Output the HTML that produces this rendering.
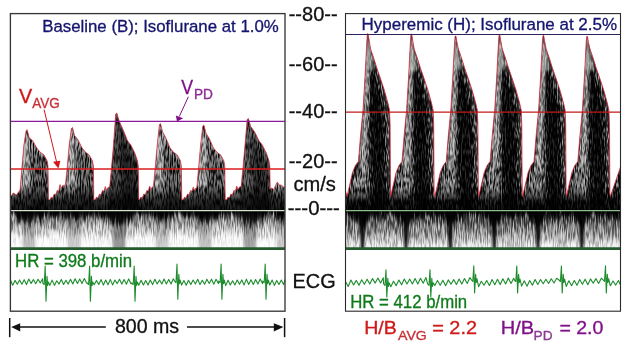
<!DOCTYPE html>
<html><head><meta charset="utf-8"><title>Doppler</title>
<style>html,body{margin:0;padding:0;background:#fff;overflow:hidden}svg text{font-family:"Liberation Sans",Arial,sans-serif;stroke-width:0.32px;paint-order:stroke}</style></head>
<body>
<svg width="629" height="347" viewBox="0 0 629 347" style="display:block">
<defs>
<filter id="spk" x="0" y="0" width="100%" height="100%" filterUnits="objectBoundingBox" color-interpolation-filters="sRGB">
 <feTurbulence type="fractalNoise" baseFrequency="0.75 0.18" numOctaves="2" seed="3" result="n"/>
 <feColorMatrix in="n" type="matrix" values="0 0 0 0 0.85  0 0 0 0 0.85  0 0 0 0 0.85  5.5 0 0 0 -2.75"/>
 <feGaussianBlur stdDeviation="0.7 0.8"/>
</filter>
<filter id="spk2" x="0" y="0" width="100%" height="100%" filterUnits="objectBoundingBox" color-interpolation-filters="sRGB">
 <feTurbulence type="fractalNoise" baseFrequency="0.75 0.16" numOctaves="2" seed="11" result="n"/>
 <feColorMatrix in="n" type="matrix" values="0 0 0 0 0.8  0 0 0 0 0.8  0 0 0 0 0.8  5 0 0 0 -1.92"/>
 <feGaussianBlur stdDeviation="0.7 0.8"/>
</filter>
<filter id="dk" x="0" y="0" width="100%" height="100%" filterUnits="objectBoundingBox" color-interpolation-filters="sRGB">
 <feTurbulence type="fractalNoise" baseFrequency="0.9 0.1" numOctaves="2" seed="5" result="n"/>
 <feColorMatrix in="n" type="matrix" values="0 0 0 0 0  0 0 0 0 0  0 0 0 0 0  6 0 0 0 -2.6"/>
 <feGaussianBlur stdDeviation="0.5 0.9"/>
</filter>
<filter id="lt" x="0" y="0" width="100%" height="100%" filterUnits="objectBoundingBox" color-interpolation-filters="sRGB">
 <feTurbulence type="fractalNoise" baseFrequency="0.8 0.09" numOctaves="2" seed="21" result="n"/>
 <feColorMatrix in="n" type="matrix" values="0 0 0 0 1  0 0 0 0 1  0 0 0 0 1  6 0 0 0 -2.9"/>
 <feGaussianBlur stdDeviation="0.5 0.9"/>
</filter>
<linearGradient id="gL" x1="0" y1="0" x2="0" y2="1"><stop offset="0" stop-color="#333"/><stop offset="0.22" stop-color="#8a8a8a"/><stop offset="0.5" stop-color="#d8d8d8"/><stop offset="0.72" stop-color="#fdfdfd"/></linearGradient>
<linearGradient id="gR" x1="0" y1="0" x2="0" y2="1"><stop offset="0" stop-color="#111"/><stop offset="0.2" stop-color="#3a3a3a"/><stop offset="0.42" stop-color="#7c7c7c"/><stop offset="0.7" stop-color="#bebebe"/><stop offset="0.9" stop-color="#f2f2f2"/></linearGradient>
<linearGradient id="gK" x1="0" y1="0" x2="0" y2="1"><stop offset="0" stop-color="#000" stop-opacity="0"/><stop offset="0.6" stop-color="#000" stop-opacity="0.7"/><stop offset="1" stop-color="#000" stop-opacity="0.85"/></linearGradient>
<filter id="spkD" x="-10%" y="-5%" width="120%" height="110%" color-interpolation-filters="sRGB">
 <feGaussianBlur in="SourceAlpha" stdDeviation="1.8" result="m"/>
 <feTurbulence type="fractalNoise" baseFrequency="0.75 0.16" numOctaves="2" seed="31" result="n"/>
 <feColorMatrix in="n" type="matrix" values="0 0 0 0 0.82  0 0 0 0 0.82  0 0 0 0 0.82  6 0 0 0 -2.35" result="c"/>
 <feGaussianBlur in="c" stdDeviation="0.7 0.8" result="cb"/>
 <feComposite in="cb" in2="m" operator="in"/>
</filter>
<filter id="rag" x="-5%" y="-40%" width="110%" height="200%" color-interpolation-filters="sRGB">
 <feGaussianBlur in="SourceGraphic" stdDeviation="1.2 2.2" result="b"/>
 <feTurbulence type="fractalNoise" baseFrequency="0.5 0.03" numOctaves="2" seed="8" result="t"/>
 <feColorMatrix in="t" type="matrix" values="0 0 0 0 0.5  0 1 0 0 0  0 0 0 0 0  0 0 0 0 1" result="m"/>
 <feDisplacementMap in="b" in2="m" scale="20" xChannelSelector="R" yChannelSelector="G"/>
</filter>
<linearGradient id="gmL" x1="0" y1="0" x2="0" y2="1"><stop offset="0" stop-color="#fff"/><stop offset="0.45" stop-color="#ddd"/><stop offset="0.8" stop-color="#333"/><stop offset="1" stop-color="#111"/></linearGradient>
<linearGradient id="gmR" x1="0" y1="0" x2="0" y2="1"><stop offset="0" stop-color="#fff"/><stop offset="0.55" stop-color="#eee"/><stop offset="1" stop-color="#666"/></linearGradient>
<mask id="mfL" maskContentUnits="objectBoundingBox"><rect width="1" height="1" fill="url(#gmL)"/></mask>
<mask id="mfR" maskContentUnits="objectBoundingBox"><rect width="1" height="1" fill="url(#gmR)"/></mask>
<filter id="blur1"><feGaussianBlur stdDeviation="1.2 1.5"/></filter>
<filter id="blurv" x="-5%" y="-50%" width="110%" height="200%"><feGaussianBlur stdDeviation="0 1.6"/></filter>
<filter id="blur2"><feGaussianBlur stdDeviation="2.2 3"/></filter>

<clipPath id="cl"><polygon points="10.4,197.0 13.4,193.0 16.4,195.0 20.1,190.0 21.7,170.0 23.9,145.0 26.1,130.7 27.2,129.7 29.2,137.7 32.7,140.7 36.8,148.0 40.0,152.0 44.0,155.0 47.2,161.0 48.0,166.0 48.4,199.5 49.7,200.0 51.2,197.2 52.7,198.0 54.2,194.0 55.7,194.8 57.2,190.5 58.7,191.2 60.0,184.5 61.3,188.0 62.7,185.5 65.4,185.0 67.0,170.0 69.2,145.0 71.4,128.5 72.5,127.5 74.5,135.5 78.0,139.8 82.1,148.0 85.3,152.0 89.3,155.0 92.5,161.0 93.4,166.0 93.8,199.5 95.0,200.0 96.5,197.2 98.0,198.0 99.5,194.0 101.0,194.8 102.5,190.5 104.0,191.2 105.3,186.5 106.6,190.0 108.0,187.5 109.7,187.0 111.3,170.0 113.5,145.0 115.7,114.0 116.8,113.0 119.2,121.0 123.1,129.8 127.6,141.0 130.8,145.0 134.8,153.0 137.5,161.0 138.2,166.0 138.7,199.5 139.3,200.0 140.8,197.2 142.3,198.0 143.8,194.0 145.3,194.8 146.8,190.5 148.3,191.2 149.6,186.0 150.9,189.5 152.3,187.0 153.4,186.5 155.0,170.0 157.2,145.0 159.4,124.6 160.5,123.6 162.5,131.6 166.0,138.2 170.1,148.0 173.3,152.0 177.3,155.0 180.5,161.0 181.3,166.0 181.8,199.5 183.0,200.0 184.5,197.2 186.0,198.0 187.5,194.0 189.0,194.8 190.5,190.5 192.0,191.2 193.3,187.0 194.6,190.5 196.0,188.0 196.8,187.5 198.4,170.0 200.6,145.0 202.8,126.0 203.9,125.0 205.9,133.0 209.4,138.8 213.5,148.0 216.7,152.0 220.7,155.0 223.9,161.0 224.8,166.0 225.2,199.5 226.4,200.0 227.9,197.2 229.4,198.0 230.9,194.0 232.4,194.8 233.9,190.5 235.4,191.2 236.7,186.0 238.0,189.5 239.4,187.0 241.2,186.5 242.8,170.0 245.0,145.0 247.2,119.5 248.3,118.5 250.7,126.5 254.7,132.0 259.1,141.0 262.3,145.0 266.3,153.0 269.0,161.0 269.8,166.0 270.2,189.0 271.8,188.0 273.8,189.5 275.8,185.0 277.3,182.0 279.3,185.0 281.3,185.0 283.3,187.0 285.0,187.0 285.0,210.7 10.4,210.7"/></clipPath>
<clipPath id="cr"><polygon points="345.5,191.0 347.0,196.5 349.9,184.0 352.5,172.5 355.4,165.5 358.4,161.5 360.6,135.0 363.0,110.0 365.1,75.0 366.8,42.0 367.4,33.8 368.1,33.8 368.9,38.8 370.6,49.0 373.7,58.0 377.0,68.5 380.3,78.0 384.3,90.0 387.9,103.0 389.5,110.0 390.1,125.0 390.3,160.0 390.5,193.0 390.9,196.5 390.6,196.5 393.5,184.0 396.1,172.5 399.0,165.5 402.0,161.5 404.2,135.0 406.6,110.0 408.7,75.0 410.4,42.0 411.0,34.2 411.7,34.2 412.5,39.2 414.2,49.0 417.3,58.0 420.6,68.5 423.9,78.0 427.9,90.0 431.5,103.0 433.1,110.0 433.7,125.0 433.9,160.0 434.1,193.0 434.5,196.5 434.8,196.5 437.7,184.0 440.3,172.5 443.2,165.5 446.2,161.5 448.4,135.0 450.8,110.0 452.9,75.0 454.6,42.0 455.2,36.0 455.9,36.0 456.7,41.0 458.4,49.0 461.5,58.0 464.8,68.5 468.1,78.0 472.1,90.0 475.7,103.0 477.3,110.0 477.9,125.0 478.1,160.0 478.3,193.0 478.7,196.5 478.7,196.5 481.6,184.0 484.2,172.5 487.1,165.5 490.1,161.5 492.3,135.0 494.7,110.0 496.8,75.0 498.5,42.0 499.1,34.8 499.8,34.8 500.6,39.8 502.3,49.0 505.4,58.0 508.7,68.5 512.0,78.0 516.0,90.0 519.6,103.0 521.2,110.0 521.8,125.0 522.0,160.0 522.2,193.0 522.6,196.5 522.6,196.5 525.5,184.0 528.1,172.5 531.0,165.5 534.0,161.5 536.2,135.0 538.6,110.0 540.7,75.0 542.4,42.0 543.0,35.5 543.7,35.5 544.5,40.5 546.2,49.0 549.3,58.0 552.6,68.5 555.9,78.0 559.9,90.0 563.5,103.0 565.1,110.0 565.7,125.0 565.9,160.0 566.1,193.0 566.5,196.5 566.4,196.5 569.3,184.0 571.9,172.5 574.8,165.5 577.8,161.5 580.0,135.0 582.4,110.0 584.5,75.0 586.2,42.0 586.8,36.5 587.5,36.5 588.3,41.5 590.0,49.0 593.1,58.0 596.4,68.5 599.7,78.0 603.7,90.0 607.3,103.0 608.9,110.0 609.5,125.0 609.7,160.0 609.9,193.0 610.3,196.5 620.5,167.0 620.5,210.7 345.5,210.7"/></clipPath>
<clipPath id="bl"><rect x="10.4" y="210.7" width="274.6" height="37.900000000000006"/></clipPath>
<clipPath id="br"><rect x="345.5" y="210.7" width="275.0" height="37.900000000000006"/></clipPath>
</defs>
<rect width="629" height="347" fill="#fff"/>
<polygon points="10.4,197.0 13.4,193.0 16.4,195.0 20.1,190.0 21.7,170.0 23.9,145.0 26.1,130.7 27.2,129.7 29.2,137.7 32.7,140.7 36.8,148.0 40.0,152.0 44.0,155.0 47.2,161.0 48.0,166.0 48.4,199.5 49.7,200.0 51.2,197.2 52.7,198.0 54.2,194.0 55.7,194.8 57.2,190.5 58.7,191.2 60.0,184.5 61.3,188.0 62.7,185.5 65.4,185.0 67.0,170.0 69.2,145.0 71.4,128.5 72.5,127.5 74.5,135.5 78.0,139.8 82.1,148.0 85.3,152.0 89.3,155.0 92.5,161.0 93.4,166.0 93.8,199.5 95.0,200.0 96.5,197.2 98.0,198.0 99.5,194.0 101.0,194.8 102.5,190.5 104.0,191.2 105.3,186.5 106.6,190.0 108.0,187.5 109.7,187.0 111.3,170.0 113.5,145.0 115.7,114.0 116.8,113.0 119.2,121.0 123.1,129.8 127.6,141.0 130.8,145.0 134.8,153.0 137.5,161.0 138.2,166.0 138.7,199.5 139.3,200.0 140.8,197.2 142.3,198.0 143.8,194.0 145.3,194.8 146.8,190.5 148.3,191.2 149.6,186.0 150.9,189.5 152.3,187.0 153.4,186.5 155.0,170.0 157.2,145.0 159.4,124.6 160.5,123.6 162.5,131.6 166.0,138.2 170.1,148.0 173.3,152.0 177.3,155.0 180.5,161.0 181.3,166.0 181.8,199.5 183.0,200.0 184.5,197.2 186.0,198.0 187.5,194.0 189.0,194.8 190.5,190.5 192.0,191.2 193.3,187.0 194.6,190.5 196.0,188.0 196.8,187.5 198.4,170.0 200.6,145.0 202.8,126.0 203.9,125.0 205.9,133.0 209.4,138.8 213.5,148.0 216.7,152.0 220.7,155.0 223.9,161.0 224.8,166.0 225.2,199.5 226.4,200.0 227.9,197.2 229.4,198.0 230.9,194.0 232.4,194.8 233.9,190.5 235.4,191.2 236.7,186.0 238.0,189.5 239.4,187.0 241.2,186.5 242.8,170.0 245.0,145.0 247.2,119.5 248.3,118.5 250.7,126.5 254.7,132.0 259.1,141.0 262.3,145.0 266.3,153.0 269.0,161.0 269.8,166.0 270.2,189.0 271.8,188.0 273.8,189.5 275.8,185.0 277.3,182.0 279.3,185.0 281.3,185.0 283.3,187.0 285.0,187.0 285.0,210.7 10.4,210.7" fill="#0a0a0a"/>
<g clip-path="url(#cl)"><rect x="10.4" y="100" width="274.6" height="110.69999999999999" filter="url(#spk2)" opacity="0.85"/>
<polygon points="29.7,145.7 34.7,155.7 40.7,156.0 47.7,166.0 48.7,210.7 31.7,210.7 30.7,170.0" fill="#000" opacity="0.32" filter="url(#blur2)"/>
<polygon points="26.4,132.7 29.2,147.7 30.2,150.0 29.7,186.0 20.7,186.0 21.7,170.0 23.9,145.0" fill="#fff" opacity="0.32" filter="url(#blur1)"/>
<polygon points="75.0,143.5 80.0,153.5 86.0,156.0 93.0,166.0 94.0,210.7 77.0,210.7 76.0,170.0" fill="#000" opacity="0.28" filter="url(#blur2)"/>
<polygon points="71.7,130.5 74.5,145.5 75.5,150.0 75.0,186.0 66.0,186.0 67.0,170.0 69.2,145.0" fill="#fff" opacity="0.32" filter="url(#blur1)"/>
<polygon points="119.3,129.0 124.3,139.0 130.3,156.0 137.3,166.0 138.3,210.7 121.3,210.7 120.3,170.0" fill="#000" opacity="0.45" filter="url(#blur2)"/>
<polygon points="116.0,116.0 118.8,131.0 119.8,150.0 119.3,186.0 110.3,186.0 111.3,170.0 113.5,145.0" fill="#fff" opacity="0.12" filter="url(#blur1)"/>
<rect x="108.3" y="111" width="31" height="97.69999999999999" fill="#000" opacity="0.5"/>
<polygon points="163.0,139.6 168.0,149.6 174.0,156.0 181.0,166.0 182.0,210.7 165.0,210.7 164.0,170.0" fill="#000" opacity="0.28" filter="url(#blur2)"/>
<polygon points="159.7,126.6 162.5,141.6 163.5,150.0 163.0,186.0 154.0,186.0 155.0,170.0 157.2,145.0" fill="#fff" opacity="0.32" filter="url(#blur1)"/>
<polygon points="206.4,141.0 211.4,151.0 217.4,156.0 224.4,166.0 225.4,210.7 208.4,210.7 207.4,170.0" fill="#000" opacity="0.28" filter="url(#blur2)"/>
<polygon points="203.1,128.0 205.9,143.0 206.9,150.0 206.4,186.0 197.4,186.0 198.4,170.0 200.6,145.0" fill="#fff" opacity="0.32" filter="url(#blur1)"/>
<polygon points="250.8,134.5 255.8,144.5 261.8,156.0 268.8,166.0 269.8,210.7 252.8,210.7 251.8,170.0" fill="#000" opacity="0.45" filter="url(#blur2)"/>
<polygon points="247.5,121.5 250.3,136.5 251.3,150.0 250.8,186.0 241.8,186.0 242.8,170.0 245.0,145.0" fill="#fff" opacity="0.12" filter="url(#blur1)"/>
<rect x="239.8" y="116.5" width="31" height="92.19999999999999" fill="#000" opacity="0.4"/>
<rect x="10.4" y="184" width="274.6" height="27" fill="url(#gK)"/>
</g>
<polyline points="10.4,197.0 13.4,193.0 16.4,195.0 20.1,190.0 21.7,170.0 23.9,145.0 26.1,130.7 27.2,129.7 29.2,137.7 32.7,140.7 36.8,148.0 40.0,152.0 44.0,155.0 47.2,161.0 48.0,166.0 48.4,199.5 49.7,200.0 51.2,197.2 52.7,198.0 54.2,194.0 55.7,194.8 57.2,190.5 58.7,191.2 60.0,184.5 61.3,188.0 62.7,185.5 65.4,185.0 67.0,170.0 69.2,145.0 71.4,128.5 72.5,127.5 74.5,135.5 78.0,139.8 82.1,148.0 85.3,152.0 89.3,155.0 92.5,161.0 93.4,166.0 93.8,199.5 95.0,200.0 96.5,197.2 98.0,198.0 99.5,194.0 101.0,194.8 102.5,190.5 104.0,191.2 105.3,186.5 106.6,190.0 108.0,187.5 109.7,187.0 111.3,170.0 113.5,145.0 115.7,114.0 116.8,113.0 119.2,121.0 123.1,129.8 127.6,141.0 130.8,145.0 134.8,153.0 137.5,161.0 138.2,166.0 138.7,199.5 139.3,200.0 140.8,197.2 142.3,198.0 143.8,194.0 145.3,194.8 146.8,190.5 148.3,191.2 149.6,186.0 150.9,189.5 152.3,187.0 153.4,186.5 155.0,170.0 157.2,145.0 159.4,124.6 160.5,123.6 162.5,131.6 166.0,138.2 170.1,148.0 173.3,152.0 177.3,155.0 180.5,161.0 181.3,166.0 181.8,199.5 183.0,200.0 184.5,197.2 186.0,198.0 187.5,194.0 189.0,194.8 190.5,190.5 192.0,191.2 193.3,187.0 194.6,190.5 196.0,188.0 196.8,187.5 198.4,170.0 200.6,145.0 202.8,126.0 203.9,125.0 205.9,133.0 209.4,138.8 213.5,148.0 216.7,152.0 220.7,155.0 223.9,161.0 224.8,166.0 225.2,199.5 226.4,200.0 227.9,197.2 229.4,198.0 230.9,194.0 232.4,194.8 233.9,190.5 235.4,191.2 236.7,186.0 238.0,189.5 239.4,187.0 241.2,186.5 242.8,170.0 245.0,145.0 247.2,119.5 248.3,118.5 250.7,126.5 254.7,132.0 259.1,141.0 262.3,145.0 266.3,153.0 269.0,161.0 269.8,166.0 270.2,189.0 271.8,188.0 273.8,189.5 275.8,185.0 277.3,182.0 279.3,185.0 281.3,185.0 283.3,187.0 285.0,187.0" fill="none" stroke="#e23848" stroke-width="0.75"/>
<polygon points="345.5,191.0 347.0,196.5 349.9,184.0 352.5,172.5 355.4,165.5 358.4,161.5 360.6,135.0 363.0,110.0 365.1,75.0 366.8,42.0 367.4,33.8 368.1,33.8 368.9,38.8 370.6,49.0 373.7,58.0 377.0,68.5 380.3,78.0 384.3,90.0 387.9,103.0 389.5,110.0 390.1,125.0 390.3,160.0 390.5,193.0 390.9,196.5 390.6,196.5 393.5,184.0 396.1,172.5 399.0,165.5 402.0,161.5 404.2,135.0 406.6,110.0 408.7,75.0 410.4,42.0 411.0,34.2 411.7,34.2 412.5,39.2 414.2,49.0 417.3,58.0 420.6,68.5 423.9,78.0 427.9,90.0 431.5,103.0 433.1,110.0 433.7,125.0 433.9,160.0 434.1,193.0 434.5,196.5 434.8,196.5 437.7,184.0 440.3,172.5 443.2,165.5 446.2,161.5 448.4,135.0 450.8,110.0 452.9,75.0 454.6,42.0 455.2,36.0 455.9,36.0 456.7,41.0 458.4,49.0 461.5,58.0 464.8,68.5 468.1,78.0 472.1,90.0 475.7,103.0 477.3,110.0 477.9,125.0 478.1,160.0 478.3,193.0 478.7,196.5 478.7,196.5 481.6,184.0 484.2,172.5 487.1,165.5 490.1,161.5 492.3,135.0 494.7,110.0 496.8,75.0 498.5,42.0 499.1,34.8 499.8,34.8 500.6,39.8 502.3,49.0 505.4,58.0 508.7,68.5 512.0,78.0 516.0,90.0 519.6,103.0 521.2,110.0 521.8,125.0 522.0,160.0 522.2,193.0 522.6,196.5 522.6,196.5 525.5,184.0 528.1,172.5 531.0,165.5 534.0,161.5 536.2,135.0 538.6,110.0 540.7,75.0 542.4,42.0 543.0,35.5 543.7,35.5 544.5,40.5 546.2,49.0 549.3,58.0 552.6,68.5 555.9,78.0 559.9,90.0 563.5,103.0 565.1,110.0 565.7,125.0 565.9,160.0 566.1,193.0 566.5,196.5 566.4,196.5 569.3,184.0 571.9,172.5 574.8,165.5 577.8,161.5 580.0,135.0 582.4,110.0 584.5,75.0 586.2,42.0 586.8,36.5 587.5,36.5 588.3,41.5 590.0,49.0 593.1,58.0 596.4,68.5 599.7,78.0 603.7,90.0 607.3,103.0 608.9,110.0 609.5,125.0 609.7,160.0 609.9,193.0 610.3,196.5 620.5,167.0 620.5,210.7 345.5,210.7" fill="#050505"/>
<g clip-path="url(#cr)"><rect x="345.5" y="30" width="275.0" height="180.7" filter="url(#spk)" opacity="0.8"/>
<polygon points="369.7,58.8 375.7,78.8 383.7,110.0 385.7,210.7 372.7,210.7 369.7,120.0" fill="#000" opacity="0.75" filter="url(#blur2)"/>
<polygon points="367.2,33.8 370.2,55.8 368.7,120.0 368.7,200.0 347.7,200.0 358.7,165.0 362.7,110.0" fill="#fff" filter="url(#spkD)" opacity="0.62"/>
<polygon points="367.2,33.8 369.7,55.8 367.2,120.0 365.2,168.0 359.7,168.0 363.2,110.0" fill="#fff" opacity="0.3" filter="url(#blur1)"/>
<polygon points="367.5,34.8 369.2,41.8 372.7,58.0 374.7,70.0 365.7,70.0 366.7,50.0" fill="#c8d0c8" opacity="0.5" filter="url(#blur1)"/>
<polygon points="370.7,45.8 377.7,68.0 386.7,103.0 389.2,125.0 389.7,185.0 387.7,185.0 387.2,125.0 384.7,103.0 375.7,68.0" fill="#fff" opacity="0.22" filter="url(#blur1)"/>
<polygon points="413.3,59.2 419.3,79.2 427.3,110.0 429.3,210.7 416.3,210.7 413.3,120.0" fill="#000" opacity="0.75" filter="url(#blur2)"/>
<polygon points="410.8,34.2 413.8,56.2 412.3,120.0 412.3,200.0 391.3,200.0 402.3,165.0 406.3,110.0" fill="#fff" filter="url(#spkD)" opacity="0.62"/>
<polygon points="410.8,34.2 413.3,56.2 410.8,120.0 408.8,168.0 403.3,168.0 406.8,110.0" fill="#fff" opacity="0.3" filter="url(#blur1)"/>
<polygon points="411.1,35.2 412.8,42.2 416.3,58.0 418.3,70.0 409.3,70.0 410.3,50.0" fill="#c8d0c8" opacity="0.5" filter="url(#blur1)"/>
<polygon points="414.3,46.2 421.3,68.0 430.3,103.0 432.8,125.0 433.3,185.0 431.3,185.0 430.8,125.0 428.3,103.0 419.3,68.0" fill="#fff" opacity="0.22" filter="url(#blur1)"/>
<polygon points="457.5,61.0 463.5,81.0 471.5,110.0 473.5,210.7 460.5,210.7 457.5,120.0" fill="#000" opacity="0.75" filter="url(#blur2)"/>
<polygon points="455.0,36.0 458.0,58.0 456.5,120.0 456.5,200.0 435.5,200.0 446.5,165.0 450.5,110.0" fill="#fff" filter="url(#spkD)" opacity="0.62"/>
<polygon points="455.0,36.0 457.5,58.0 455.0,120.0 453.0,168.0 447.5,168.0 451.0,110.0" fill="#fff" opacity="0.3" filter="url(#blur1)"/>
<polygon points="455.3,37.0 457.0,44.0 460.5,58.0 462.5,70.0 453.5,70.0 454.5,50.0" fill="#c8d0c8" opacity="0.5" filter="url(#blur1)"/>
<polygon points="458.5,48.0 465.5,68.0 474.5,103.0 477.0,125.0 477.5,185.0 475.5,185.0 475.0,125.0 472.5,103.0 463.5,68.0" fill="#fff" opacity="0.22" filter="url(#blur1)"/>
<polygon points="501.4,59.8 507.4,79.8 515.4,110.0 517.4,210.7 504.4,210.7 501.4,120.0" fill="#000" opacity="0.75" filter="url(#blur2)"/>
<polygon points="498.9,34.8 501.9,56.8 500.4,120.0 500.4,200.0 479.4,200.0 490.4,165.0 494.4,110.0" fill="#fff" filter="url(#spkD)" opacity="0.62"/>
<polygon points="498.9,34.8 501.4,56.8 498.9,120.0 496.9,168.0 491.4,168.0 494.9,110.0" fill="#fff" opacity="0.3" filter="url(#blur1)"/>
<polygon points="499.2,35.8 500.9,42.8 504.4,58.0 506.4,70.0 497.4,70.0 498.4,50.0" fill="#c8d0c8" opacity="0.5" filter="url(#blur1)"/>
<polygon points="502.4,46.8 509.4,68.0 518.4,103.0 520.9,125.0 521.4,185.0 519.4,185.0 518.9,125.0 516.4,103.0 507.4,68.0" fill="#fff" opacity="0.22" filter="url(#blur1)"/>
<polygon points="545.3,60.5 551.3,80.5 559.3,110.0 561.3,210.7 548.3,210.7 545.3,120.0" fill="#000" opacity="0.75" filter="url(#blur2)"/>
<polygon points="542.8,35.5 545.8,57.5 544.3,120.0 544.3,200.0 523.3,200.0 534.3,165.0 538.3,110.0" fill="#fff" filter="url(#spkD)" opacity="0.62"/>
<polygon points="542.8,35.5 545.3,57.5 542.8,120.0 540.8,168.0 535.3,168.0 538.8,110.0" fill="#fff" opacity="0.3" filter="url(#blur1)"/>
<polygon points="543.1,36.5 544.8,43.5 548.3,58.0 550.3,70.0 541.3,70.0 542.3,50.0" fill="#c8d0c8" opacity="0.5" filter="url(#blur1)"/>
<polygon points="546.3,47.5 553.3,68.0 562.3,103.0 564.8,125.0 565.3,185.0 563.3,185.0 562.8,125.0 560.3,103.0 551.3,68.0" fill="#fff" opacity="0.22" filter="url(#blur1)"/>
<polygon points="589.1,61.5 595.1,81.5 603.1,110.0 605.1,210.7 592.1,210.7 589.1,120.0" fill="#000" opacity="0.75" filter="url(#blur2)"/>
<polygon points="586.6,36.5 589.6,58.5 588.1,120.0 588.1,200.0 567.1,200.0 578.1,165.0 582.1,110.0" fill="#fff" filter="url(#spkD)" opacity="0.62"/>
<polygon points="586.6,36.5 589.1,58.5 586.6,120.0 584.6,168.0 579.1,168.0 582.6,110.0" fill="#fff" opacity="0.3" filter="url(#blur1)"/>
<polygon points="586.9,37.5 588.6,44.5 592.1,58.0 594.1,70.0 585.1,70.0 586.1,50.0" fill="#c8d0c8" opacity="0.5" filter="url(#blur1)"/>
<polygon points="590.1,48.5 597.1,68.0 606.1,103.0 608.6,125.0 609.1,185.0 607.1,185.0 606.6,125.0 604.1,103.0 595.1,68.0" fill="#fff" opacity="0.22" filter="url(#blur1)"/>
<rect x="345.5" y="186" width="275.0" height="25" fill="url(#gK)"/>
</g>
<polyline points="345.5,191.0 347.0,196.5 349.9,184.0 352.5,172.5 355.4,165.5 358.4,161.5 360.6,135.0 363.0,110.0 365.1,75.0 366.8,42.0 367.4,33.8 368.1,33.8 368.9,38.8 370.6,49.0 373.7,58.0 377.0,68.5 380.3,78.0 384.3,90.0 387.9,103.0 389.5,110.0 390.1,125.0 390.3,160.0 390.5,193.0 390.9,196.5 390.6,196.5 393.5,184.0 396.1,172.5 399.0,165.5 402.0,161.5 404.2,135.0 406.6,110.0 408.7,75.0 410.4,42.0 411.0,34.2 411.7,34.2 412.5,39.2 414.2,49.0 417.3,58.0 420.6,68.5 423.9,78.0 427.9,90.0 431.5,103.0 433.1,110.0 433.7,125.0 433.9,160.0 434.1,193.0 434.5,196.5 434.8,196.5 437.7,184.0 440.3,172.5 443.2,165.5 446.2,161.5 448.4,135.0 450.8,110.0 452.9,75.0 454.6,42.0 455.2,36.0 455.9,36.0 456.7,41.0 458.4,49.0 461.5,58.0 464.8,68.5 468.1,78.0 472.1,90.0 475.7,103.0 477.3,110.0 477.9,125.0 478.1,160.0 478.3,193.0 478.7,196.5 478.7,196.5 481.6,184.0 484.2,172.5 487.1,165.5 490.1,161.5 492.3,135.0 494.7,110.0 496.8,75.0 498.5,42.0 499.1,34.8 499.8,34.8 500.6,39.8 502.3,49.0 505.4,58.0 508.7,68.5 512.0,78.0 516.0,90.0 519.6,103.0 521.2,110.0 521.8,125.0 522.0,160.0 522.2,193.0 522.6,196.5 522.6,196.5 525.5,184.0 528.1,172.5 531.0,165.5 534.0,161.5 536.2,135.0 538.6,110.0 540.7,75.0 542.4,42.0 543.0,35.5 543.7,35.5 544.5,40.5 546.2,49.0 549.3,58.0 552.6,68.5 555.9,78.0 559.9,90.0 563.5,103.0 565.1,110.0 565.7,125.0 565.9,160.0 566.1,193.0 566.5,196.5 566.4,196.5 569.3,184.0 571.9,172.5 574.8,165.5 577.8,161.5 580.0,135.0 582.4,110.0 584.5,75.0 586.2,42.0 586.8,36.5 587.5,36.5 588.3,41.5 590.0,49.0 593.1,58.0 596.4,68.5 599.7,78.0 603.7,90.0 607.3,103.0 608.9,110.0 609.5,125.0 609.7,160.0 609.9,193.0 610.3,196.5 620.5,167.0" fill="none" stroke="#d83040" stroke-width="0.8"/>
<g clip-path="url(#bl)">
<rect x="10.4" y="210.7" width="274.6" height="37.900000000000006" fill="url(#gL)"/>
<g mask="url(#mfL)"><rect x="10.4" y="210.7" width="274.6" height="37.900000000000006" filter="url(#dk)" opacity="0.5"/></g>
<rect x="10.4" y="210.7" width="274.6" height="37.900000000000006" filter="url(#lt)" opacity="0.6"/>
<g filter="url(#rag)">
<rect x="5.4" y="198.7" width="284.6" height="15.5" fill="#000"/>
<polygon points="22.0,210.7 23.0,256.6 35.0,256.6 36.0,210.7" fill="#000" opacity="0.22"/>
<ellipse cx="30" cy="210.7" rx="15" ry="11.2" fill="#000" opacity="0.85"/>
<polygon points="67.0,210.7 68.0,256.6 80.0,256.6 81.0,210.7" fill="#000" opacity="0.18"/>
<ellipse cx="75" cy="210.7" rx="14" ry="9.6" fill="#000" opacity="0.85"/>
<polygon points="112.0,210.7 113.0,256.6 125.0,256.6 126.0,210.7" fill="#000" opacity="0.4"/>
<ellipse cx="120" cy="210.7" rx="15" ry="13.6" fill="#000" opacity="0.85"/>
<polygon points="155.0,210.7 156.0,256.6 168.0,256.6 169.0,210.7" fill="#000" opacity="0.18"/>
<ellipse cx="163" cy="210.7" rx="13" ry="9.6" fill="#000" opacity="0.85"/>
<polygon points="198.0,210.7 199.0,256.6 211.0,256.6 212.0,210.7" fill="#000" opacity="0.22"/>
<ellipse cx="206" cy="210.7" rx="14" ry="10.4" fill="#000" opacity="0.85"/>
<polygon points="243.0,210.7 244.0,256.6 256.0,256.6 257.0,210.7" fill="#000" opacity="0.34"/>
<ellipse cx="251" cy="210.7" rx="15" ry="12.8" fill="#000" opacity="0.85"/>
<polygon points="276.0,210.7 277.0,256.6 289.0,256.6 290.0,210.7" fill="#000" opacity="0.18"/>
<ellipse cx="284" cy="210.7" rx="8" ry="9.6" fill="#000" opacity="0.85"/>
</g>
</g>
<g clip-path="url(#br)">
<rect x="345.5" y="210.7" width="275.0" height="37.900000000000006" fill="url(#gR)"/>
<g mask="url(#mfR)"><rect x="345.5" y="210.7" width="275.0" height="37.900000000000006" filter="url(#dk)" opacity="0.55"/></g>
<rect x="345.5" y="210.7" width="275.0" height="37.900000000000006" filter="url(#lt)" opacity="0.55"/>
<g filter="url(#rag)">
<rect x="340.5" y="198.7" width="285.0" height="16" fill="#000"/>
<polygon points="350.4,208.7 356.4,217.7 360.0,225.7 361.2,256.6 363.6,256.6 364.8,225.7 368.4,217.7 374.4,208.7" fill="#000" opacity="0.95"/>
<polygon points="394.0,208.7 400.0,217.7 403.6,225.7 404.8,256.6 407.2,256.6 408.4,225.7 412.0,217.7 418.0,208.7" fill="#000" opacity="0.95"/>
<polygon points="438.2,208.7 444.2,217.7 447.8,225.7 449.0,256.6 451.4,256.6 452.6,225.7 456.2,217.7 462.2,208.7" fill="#000" opacity="0.95"/>
<polygon points="482.1,208.7 488.1,217.7 491.7,225.7 492.9,256.6 495.3,256.6 496.5,225.7 500.1,217.7 506.1,208.7" fill="#000" opacity="0.95"/>
<polygon points="526.0,208.7 532.0,217.7 535.6,225.7 536.8,256.6 539.2,256.6 540.4,225.7 544.0,217.7 550.0,208.7" fill="#000" opacity="0.95"/>
<polygon points="569.8,208.7 575.8,217.7 579.4,225.7 580.6,256.6 583.0,256.6 584.2,225.7 587.8,217.7 593.8,208.7" fill="#000" opacity="0.95"/>
</g>
</g>
<line x1="10.4" x2="285.0" y1="121.3" y2="121.3" stroke="#8a1a9a" stroke-width="1.2"/>
<line x1="10.4" x2="285.0" y1="169" y2="169" stroke="#dc1c1c" stroke-width="1.3"/>
<line x1="10.4" x2="285.0" y1="210.7" y2="210.7" stroke="#d4e4d0" stroke-width="1.2"/>
<line x1="10.4" x2="285.0" y1="248.6" y2="248.6" stroke="#235a2c" stroke-width="2.6"/>
<line x1="345.5" x2="620.5" y1="34.5" y2="34.5" stroke="#2a2258" stroke-width="1.2"/>
<line x1="345.5" x2="620.5" y1="112.2" y2="112.2" stroke="#c41a1a" stroke-width="1.2"/>
<line x1="345.5" x2="620.5" y1="210.7" y2="210.7" stroke="#8fbf8a" stroke-width="1.2"/>
<line x1="345.5" x2="620.5" y1="248.6" y2="248.6" stroke="#235a2c" stroke-width="2.6"/>
<polyline points="10.4,279.8 12.7,285.2 15.0,280.4 17.3,284.3 19.6,279.9 21.9,284.3 24.2,279.8 26.5,284.5 28.8,279.0 31.1,283.4 33.4,279.6 35.7,283.7 38.0,279.3 40.3,282.9 42.6,278.8 42.8,283.0 44.2,284.5 45.2,266.0 46.0,301.2 47.0,276.2 47.7,285.5 48.4,282.0 49.8,285.4 52.1,280.1 54.4,285.4 56.7,280.7 59.0,284.1 61.3,279.4 63.6,284.5 65.9,280.3 68.2,284.1 70.5,279.2 72.8,284.0 75.1,278.8 77.4,283.5 79.7,279.1 82.0,283.6 84.3,278.6 86.6,283.1 87.2,283.0 88.6,284.5 89.6,266.0 90.4,301.2 91.4,276.2 92.1,285.5 92.8,282.0 94.2,284.8 96.5,280.4 98.8,284.6 101.1,279.6 103.4,285.1 105.7,280.1 108.0,284.7 110.3,279.4 112.6,284.9 114.9,280.0 117.2,283.6 119.5,279.2 121.8,284.1 124.1,279.4 126.4,284.2 128.7,278.9 131.0,283.8 131.8,283.0 133.2,284.5 134.2,266.0 135.0,301.2 136.0,276.2 136.7,285.5 137.4,282.0 138.8,285.3 141.1,280.2 143.4,285.0 145.7,280.6 148.0,285.1 150.3,280.0 152.6,284.6 154.9,279.2 157.2,284.0 159.5,279.9 161.8,284.0 164.1,279.0 166.4,283.9 168.7,279.4 171.0,283.9 173.3,278.8 174.6,281.1 176.0,282.6 177.0,264.1 177.8,299.3 178.8,274.3 179.5,283.6 180.2,280.1 181.6,285.1 183.9,280.5 186.2,285.3 188.5,280.3 190.8,284.6 193.1,280.0 195.4,284.0 197.7,279.3 200.0,284.6 202.3,280.2 204.6,284.2 206.9,279.3 209.2,283.5 211.5,279.2 213.8,284.3 216.1,279.3 218.4,283.6 218.7,281.1 220.1,282.6 221.1,264.1 221.9,299.3 222.9,274.3 223.6,283.6 224.3,280.1 225.7,285.6 228.0,280.2 230.3,285.0 232.6,280.8 234.9,284.9 237.2,280.0 239.5,284.3 241.8,279.9 244.1,284.9 246.4,279.1 248.7,284.5 251.0,279.8 253.3,284.4 255.6,279.5 257.9,284.1 260.2,279.0 262.5,283.6 262.8,281.1 264.2,282.6 265.2,264.1 266.0,299.3 267.0,274.3 267.7,283.6 268.4,280.1 269.8,285.1 272.1,280.0 274.4,285.4 276.7,280.4 279.0,284.4 281.3,280.1 283.6,284.6 285.0,279.7" fill="none" stroke="#1c8c2c" stroke-width="1.1" stroke-linejoin="round"/>
<polyline points="345.5,281.5 348.2,286.5 350.9,280.0 353.6,285.0 356.3,280.4 359.0,285.3 361.7,279.7 364.4,284.3 367.1,279.2 369.8,284.1 372.5,278.6 375.2,283.1 377.9,278.0 380.6,282.9 383.3,277.8 383.6,283.9 385.0,285.4 386.0,269.9 386.8,296.9 387.8,278.3 388.5,286.4 389.2,282.9 390.8,286.7 393.5,281.2 396.2,285.6 398.9,280.1 401.6,284.8 404.3,279.1 407.0,284.0 409.7,279.1 412.4,283.9 415.1,278.5 417.8,284.1 420.5,278.2 423.2,283.2 425.9,277.4 427.6,283.9 429.0,285.4 430.0,269.9 430.8,296.9 431.8,278.3 432.5,286.4 433.2,282.9 434.8,285.5 437.5,280.4 440.2,285.2 442.9,280.2 445.6,285.7 448.3,279.9 451.0,284.2 453.7,279.6 456.4,284.5 459.1,279.0 461.8,284.1 464.5,278.5 467.2,283.5 469.9,277.5 471.4,279.9 472.8,281.4 473.8,265.9 474.6,292.9 475.6,274.3 476.3,282.4 477.0,278.9 478.6,286.7 481.3,281.2 484.0,285.2 486.7,280.5 489.4,285.4 492.1,279.6 494.8,284.7 497.5,279.2 500.2,284.6 502.9,278.7 505.6,284.0 508.3,278.0 511.0,283.6 513.7,278.2 514.4,280.0 515.8,281.5 516.8,266.0 517.6,293.0 518.6,274.4 519.3,282.5 520.0,279.0 521.6,286.1 524.3,280.8 527.0,286.2 529.7,280.5 532.4,285.2 535.1,279.4 537.8,284.5 540.5,279.5 543.2,283.8 545.9,279.3 548.6,283.5 551.3,278.8 554.0,283.0 556.7,278.3 559.0,280.0 560.4,281.5 561.4,266.0 562.2,293.0 563.2,274.4 563.9,282.5 564.6,279.0 566.2,286.4 568.9,280.7 571.6,285.7 574.3,280.4 577.0,285.3 579.7,279.5 582.4,284.3 585.1,279.2 587.8,284.7 590.5,278.9 593.2,283.2 595.9,278.6 598.6,283.5 601.3,278.2 603.1,279.9 604.5,281.4 605.5,265.9 606.3,292.9 607.3,274.3 608.0,282.4 608.7,278.9 610.3,285.8 613.0,281.0 615.7,285.1 618.4,280.4 620.5,284.9" fill="none" stroke="#1c8c2c" stroke-width="1.1" stroke-linejoin="round"/>
<rect x="10.4" y="13.6" width="274.6" height="297.59999999999997" fill="none" stroke="#383838" stroke-width="1.35"/>
<rect x="345.5" y="13.6" width="275.0" height="297.59999999999997" fill="none" stroke="#2a2a2a" stroke-width="1.1"/>
<text x="42.2" y="31.5" font-size="17.4" fill="#14146e" stroke="#14146e" textLength="236.6" lengthAdjust="spacingAndGlyphs" >Baseline (B); Isoflurane at 1.0%</text>
<text x="361.6" y="30.1" font-size="17.4" fill="#14146e" stroke="#14146e" textLength="255.4" lengthAdjust="spacingAndGlyphs" >Hyperemic (H); Isoflurane at 2.5%</text>
<text x="288.7" y="21.4" font-size="19.8" fill="#111" stroke="#111" textLength="48.9" lengthAdjust="spacingAndGlyphs" >--80--</text>
<text x="288.7" y="70.6" font-size="19.8" fill="#111" stroke="#111" textLength="48.9" lengthAdjust="spacingAndGlyphs" >--60--</text>
<text x="288.7" y="118.3" font-size="19.8" fill="#111" stroke="#111" textLength="48.9" lengthAdjust="spacingAndGlyphs" >--40--</text>
<text x="288.7" y="168.0" font-size="19.8" fill="#111" stroke="#111" textLength="48.9" lengthAdjust="spacingAndGlyphs" >--20--</text>
<text x="293.5" y="191.2" font-size="19.8" fill="#111" stroke="#111" textLength="42.4" lengthAdjust="spacingAndGlyphs" >cm/s</text>
<text x="287.8" y="214.9" font-size="19.8" fill="#111" stroke="#111" textLength="52" lengthAdjust="spacingAndGlyphs" >---0---</text>
<text x="292.6" y="287.9" font-size="20" fill="#111" stroke="#111" textLength="43" lengthAdjust="spacingAndGlyphs" >ECG</text>
<text x="15.0" y="266.6" font-size="17.6" fill="#0f7a1a" stroke="#0f7a1a" textLength="117.2" lengthAdjust="spacingAndGlyphs" >HR = 398 b/min</text>
<text x="350.2" y="307.7" font-size="17.6" fill="#0f7a1a" stroke="#0f7a1a" textLength="117" lengthAdjust="spacingAndGlyphs" >HR = 412 b/min</text>
<text x="114.9" y="332.6" font-size="19.6" fill="#111" stroke="#111" textLength="64.2" lengthAdjust="spacingAndGlyphs" >800 ms</text>
<text x="19.0" y="103.0" font-size="20.4" fill="#d01818" stroke="#d01818" textLength="13.2" lengthAdjust="spacingAndGlyphs" >V</text>
<text x="32.2" y="107.6" font-size="14.2" fill="#c83038" stroke="#c83038" textLength="27.6" lengthAdjust="spacingAndGlyphs" stroke-width="0">AVG</text>
<text x="181.2" y="93.8" font-size="19.8" fill="#80108a" stroke="#80108a" textLength="11.8" lengthAdjust="spacingAndGlyphs" >V</text>
<text x="194.0" y="98.6" font-size="13.8" fill="#8a2a92" stroke="#8a2a92" textLength="19" lengthAdjust="spacingAndGlyphs" stroke-width="0">PD</text>
<text x="364.2" y="334.2" font-size="18.6" fill="#d01818" stroke="#d01818" textLength="32.6" lengthAdjust="spacingAndGlyphs" >H/B</text>
<text x="398.0" y="340.0" font-size="13.2" fill="#c83038" stroke="#c83038" textLength="28.8" lengthAdjust="spacingAndGlyphs" stroke-width="0">AVG</text>
<text x="432.2" y="334.2" font-size="18.6" fill="#d01818" stroke="#d01818" textLength="44.8" lengthAdjust="spacingAndGlyphs" >= 2.2</text>
<text x="500.8" y="334.2" font-size="18.6" fill="#80108a" stroke="#80108a" textLength="33.4" lengthAdjust="spacingAndGlyphs" >H/B</text>
<text x="533.6" y="340.2" font-size="13.6" fill="#8a3a92" stroke="#8a3a92" textLength="19" lengthAdjust="spacingAndGlyphs" stroke-width="0">PD</text>
<text x="559.4" y="334.2" font-size="18.6" fill="#80108a" stroke="#80108a" textLength="44" lengthAdjust="spacingAndGlyphs" >= 2.0</text>
<line x1="44.1" y1="109.6" x2="56.6" y2="162" stroke="#d01818" stroke-width="1"/>
<polygon points="53.0,161.8 60.4,160.8 58.4,168.4" fill="#d01818"/>
<line x1="188.4" y1="96.7" x2="179.3" y2="116.5" stroke="#80108a" stroke-width="1"/>
<polygon points="175.8,115.4 183.2,118.3 177.0,121.6" fill="#80108a"/>
<g stroke="#111" stroke-width="1.5" fill="#111"><line x1="9.700000000000001" y1="318" x2="9.700000000000001" y2="337.2"/><line x1="284.6" y1="318" x2="284.6" y2="337.2"/><line x1="19" y1="327.0" x2="105.8" y2="327.0"/><line x1="187" y1="327.0" x2="274.5" y2="327.0"/><polygon points="11.2,327.0 20.2,323.2 20.2,331.6" stroke="none"/><polygon points="283.4,327.0 273.8,323.2 273.8,331.6" stroke="none"/></g>
</svg>
</body></html>
